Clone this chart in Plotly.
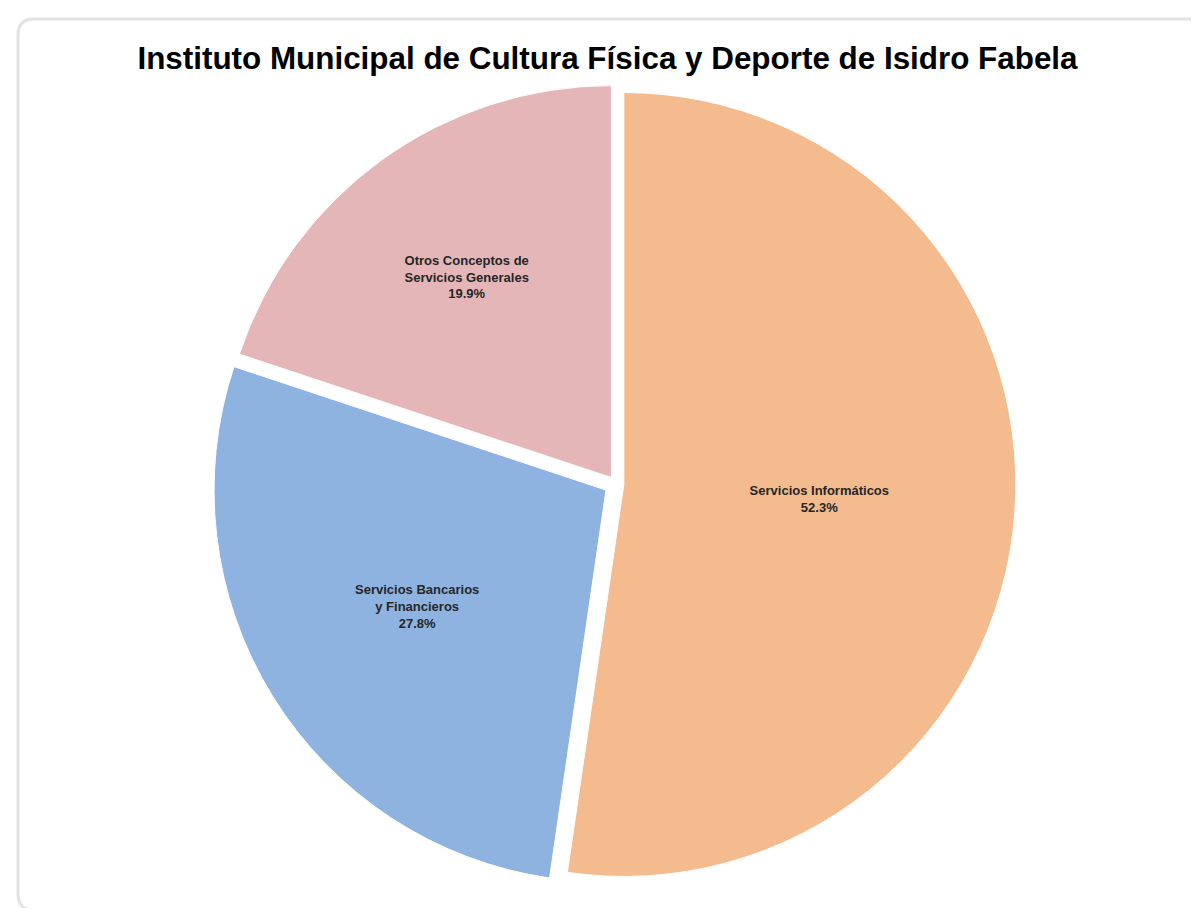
import plotly.graph_objects as go

labels = ["Servicios Informáticos", "Servicios Bancarios<br>y Financieros", "Otros Conceptos de<br>Servicios Generales"]
values = [52.3, 27.8, 19.9]
colors = ["#F4BB8E", "#8EB3E0", "#E5B6B8"]
pulls = [0.02, 0.03, 0.02]
title = "Instituto Municipal de Cultura Física y Deporte de Isidro Fabela"

W, H = 1199, 908

fig = go.Figure(go.Pie(
    labels=labels,
    values=values,
    sort=False,
    direction="clockwise",
    rotation=0,
    pull=pulls,
    marker=dict(colors=colors, line=dict(color="#FFFFFF", width=1)),
    texttemplate="<b>%{label}<br>%{percent:.1%}</b>",
    textposition="inside",
    insidetextorientation="horizontal",
    textfont=dict(family="Liberation Sans", size=13, color="#262626"),
    hoverinfo="label+percent",
    showlegend=False,
    domain=dict(x=[0.5071 - 0.36, 0.5071 + 0.36], y=[0.0312, 0.9205]),
))

# rounded frame
x0, y0, x1, y1 = 10 / W, 1 - 902 / H, 1210 / W, 1 - 11 / H
rx, ry = 16 / W, 16 / H
path = (f"M {x0+rx},{y0} L {x1-rx},{y0} Q {x1},{y0} {x1},{y0+ry} "
        f"L {x1},{y1-ry} Q {x1},{y1} {x1-rx},{y1} L {x0+rx},{y1} "
        f"Q {x0},{y1} {x0},{y1-ry} L {x0},{y0+ry} Q {x0},{y0} {x0+rx},{y0} Z")

fig.update_layout(
    width=W, height=H,
    margin=dict(l=0, r=0, t=0, b=0),
    paper_bgcolor="white",
    plot_bgcolor="white",
    title=dict(text=f"<b>{title}</b>", x=0.5, xanchor="center", y=1 - 50 / H, yanchor="middle",
               font=dict(family="Liberation Sans", size=31.4, color="#000000")),
    shapes=[dict(type="path", path=path, xref="paper", yref="paper",
                 line=dict(color="#E3E3E3", width=3), layer="below")],
)

fig.write_html("out.html")
